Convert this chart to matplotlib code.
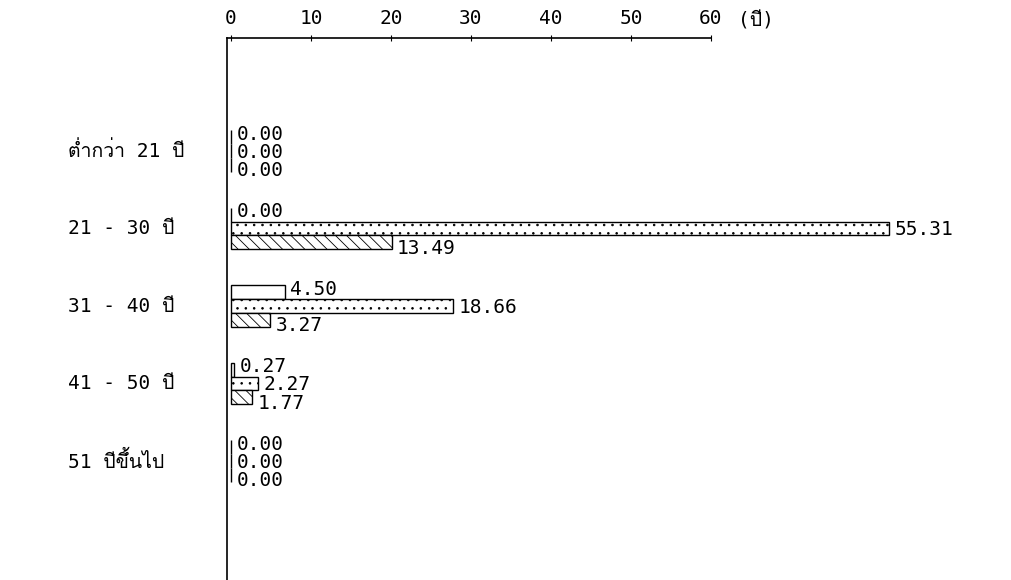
import matplotlib
matplotlib.use("Agg")
import matplotlib.pyplot as plt
import numpy as np
from matplotlib import font_manager
from matplotlib.ft2font import FT2Font

# data
categories = ["ต่ำกว่า 21 ปี", "21 - 30 ปี", "31 - 40 ปี", "41 - 50 ปี", "51 ปีขึ้นไป"]
series_a = [0.00, 0.00, 4.50, 0.27, 0.00]
series_b = [0.00, 55.31, 18.66, 2.27, 0.00]
series_c = [0.00, 13.49, 3.27, 1.77, 0.00]
top_ticks = [0, 10, 20, 30, 40, 50, 60]
unit_label = "(ปี)"


def find_thai_font():
    for f in font_manager.fontManager.ttflist:
        try:
            if 0x0E1B in FT2Font(f.fname).get_charmap():
                return f.name
        except Exception:
            pass
    return None


thai = find_thai_font()
fams = ["DejaVu Sans Mono"] + ([thai] if thai else []) + ["DejaVu Sans"]
plt.rcParams["font.family"] = fams
plt.rcParams["hatch.linewidth"] = 0.6

W, H = 1012, 580
fig = plt.figure(figsize=(W / 100, H / 100), dpi=100)
ax = fig.add_axes([227 / W, 0, (711 - 227) / W, 1 - 38 / H])

# the bars in the original use a larger scale than the printed axis
k = 1.4875  # printed-axis units per bar unit
ax.set_xlim(-0.5 / k, 60 / k)
ax.set_ylim(5.535, -1.458)

y = np.arange(len(categories))
h = 0.18
styles = [dict(hatch=None), dict(hatch=".."), dict(hatch="\\\\\\")]
dys = [2, -1, -4]
for i, vals in enumerate([series_a, series_b, series_c]):
    pos = y + (i - 1) * h
    ax.barh(pos, vals, height=h, color="white", edgecolor="black",
            linewidth=1.0, clip_on=False, **styles[i])
    for p, v in zip(pos, vals):
        ax.annotate(f"{v:.2f}", (v, p), xytext=(4, dys[i]),
                    textcoords="offset points", va="center", ha="left",
                    fontsize=14, annotation_clip=False)

for yi, c in zip(y, categories):
    ax.text((68 - 227) / 484, yi, c, transform=ax.get_yaxis_transform(),
            va="center", ha="left", fontsize=14)

for s in ["right", "bottom"]:
    ax.spines[s].set_visible(False)
ax.spines["top"].set_linewidth(1.2)
ax.spines["left"].set_linewidth(1.2)
ax.set_xticks([])
ax.set_yticks([])

sec = ax.secondary_xaxis("top", functions=(lambda x: x * k, lambda x: x / k))
sec.set_xticks(top_ticks)
sec.tick_params(direction="inout", length=5, pad=5, labelsize=14)
sec.spines["top"].set_visible(False)

fig.text(738 / W, 1 - 21 / H, unit_label, fontsize=14, va="center", ha="left")

fig.savefig("out.png", dpi=100)
